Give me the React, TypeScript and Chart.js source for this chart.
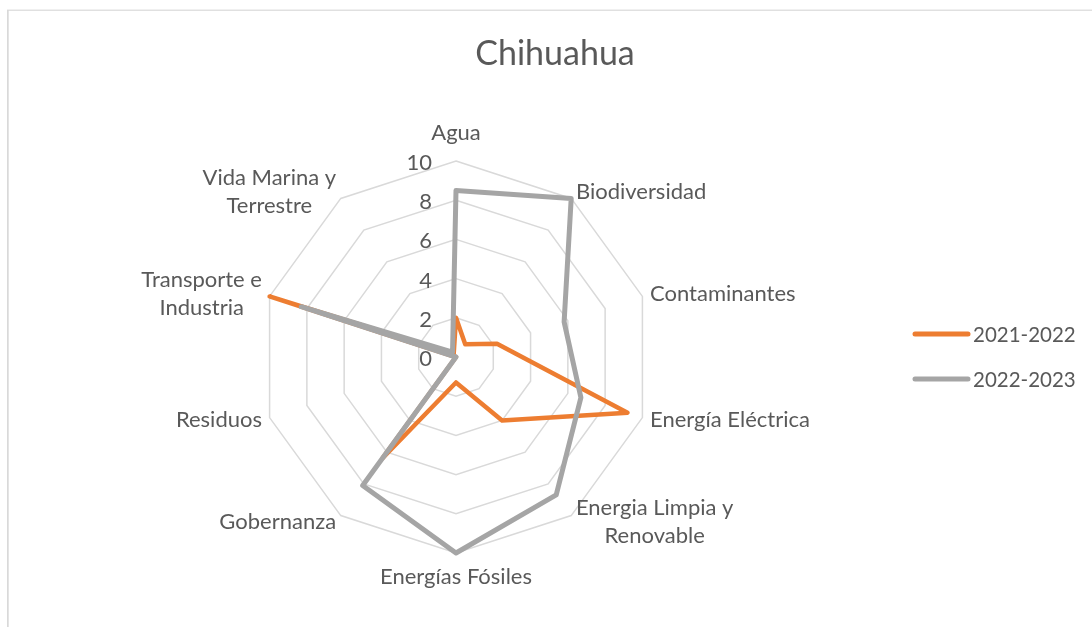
import React, { useEffect, useRef } from 'react';
import { Chart, registerables } from 'chart.js';

Chart.register(...registerables);

const chartTitle = 'Chihuahua';
const categories: string[][] = [
  ['Agua'],
  ['Biodiversidad'],
  ['Contaminantes'],
  ['Energía Eléctrica'],
  ['Energia Limpia y', 'Renovable'],
  ['Energías Fósiles'],
  ['Gobernanza'],
  ['Residuos'],
  ['Transporte e', 'Industria'],
  ['Vida Marina y', 'Terrestre'],
];
const seriesNames = ['2021-2022', '2022-2023'];
const values2021 = [2, 0.8, 2.2, 9.2, 4, 1.3, 6.4, 0, 10, 0.2];
const values2022 = [8.5, 10, 5.8, 6.7, 8.7, 10, 8.1, 0, 8.3, 0.3];
const tickValues = [0, 2, 4, 6, 8, 10];
const seriesColors = ['#ED7D31', '#A5A5A5'];

const W = 1092;
const H = 627;
const TEXT = '#595959';
const FONT_FAMILY = 'Lato, "Open Sans", sans-serif';

const decor = {
  id: 'decor',
  beforeDraw(chart: any) {
    const ctx = chart.ctx as CanvasRenderingContext2D;
    ctx.save();
    ctx.fillStyle = '#D9D9D9';
    ctx.fillRect(7, 10, 1.7, H - 10);
    ctx.fillRect(7, 9.6, W - 7, 1.2);
    ctx.restore();
  },
  afterDraw(chart: any) {
    const ctx = chart.ctx as CanvasRenderingContext2D;
    const r = chart.scales.r;
    ctx.save();
    ctx.fillStyle = TEXT;
    ctx.font = `22px ${FONT_FAMILY}`;
    // tick labels
    ctx.textAlign = 'right';
    ctx.textBaseline = 'middle';
    tickValues.forEach((v) => {
      const d = r.getDistanceFromCenterForValue(v);
      ctx.fillText(String(v), r.xCenter - 24, r.yCenter - d + 2);
    });
    // point labels
    const lh = 28;
    categories.forEach((lines, i) => {
      const p = r.getPointPosition(i, r.drawingArea + 8);
      const a = r.getIndexAngle(i);
      const s = Math.sin(a);
      const c = Math.cos(a);
      const bw = Math.max(...lines.map((l) => ctx.measureText(l).width));
      const bh = lh * lines.length;
      let cx = p.x;
      let cy = p.y;
      if (Math.abs(s) < 0.01) {
        cy = c > 0 ? p.y - 20 : p.y + 16;
      } else if (s > 0) {
        cx = p.x + bw / 2;
      } else {
        cx = p.x - bw / 2;
      }
      ctx.textAlign = 'center';
      lines.forEach((l, j) => ctx.fillText(l, cx, cy - bh / 2 + lh * (j + 0.5)));
    });
    // title
    ctx.font = `34px ${FONT_FAMILY}`;
    ctx.textAlign = 'center';
    ctx.textBaseline = 'alphabetic';
    ctx.fillText(chartTitle, 555, 65);
    // legend
    ctx.font = `20.5px ${FONT_FAMILY}`;
    ctx.textAlign = 'left';
    ctx.textBaseline = 'middle';
    const legendY = [334, 379];
    seriesNames.forEach((name, i) => {
      ctx.strokeStyle = seriesColors[i];
      ctx.lineWidth = 5;
      ctx.lineCap = 'round';
      ctx.beginPath();
      ctx.moveTo(915, legendY[i]);
      ctx.lineTo(968, legendY[i]);
      ctx.stroke();
      ctx.fillText(name, 973, legendY[i] + 1);
    });
    ctx.restore();
  },
};

export default function App() {
  const ref = useRef<HTMLCanvasElement>(null);
  useEffect(() => {
    if (!ref.current) return;
    const chart = new Chart(ref.current, {
      type: 'radar',
      data: {
        labels: categories,
        datasets: [
          {
            label: seriesNames[0],
            data: values2021,
            borderColor: seriesColors[0],
            backgroundColor: seriesColors[0],
            borderWidth: 4.5,
            fill: false,
            order: 1,
          },
          {
            label: seriesNames[1],
            data: values2022,
            borderColor: seriesColors[1],
            backgroundColor: seriesColors[1],
            borderWidth: 5,
            fill: false,
            order: 0,
          },
        ],
      },
      options: {
        responsive: false,
        animation: false,
        devicePixelRatio: 1,
        layout: { padding: { left: 260, right: 440, top: 161, bottom: 74 } },
        plugins: {
          legend: { display: false },
          title: { display: false },
          tooltip: { enabled: false },
        },
        elements: {
          line: { tension: 0, borderJoinStyle: 'round', borderCapStyle: 'round' },
          point: { radius: 0, hoverRadius: 0 },
        },
        scales: {
          r: {
            min: 0,
            max: 10,
            ticks: { stepSize: 2, display: false },
            pointLabels: { display: false },
            angleLines: { display: false },
            grid: { color: '#D9D9D9', lineWidth: 1.5 },
          },
        },
      },
      plugins: [decor],
    } as any);
    return () => chart.destroy();
  }, []);
  return (
    <canvas
      ref={ref}
      width={W}
      height={H}
      style={{ position: 'fixed', left: 0, top: 0, width: W, height: H }}
    />
  );
}
